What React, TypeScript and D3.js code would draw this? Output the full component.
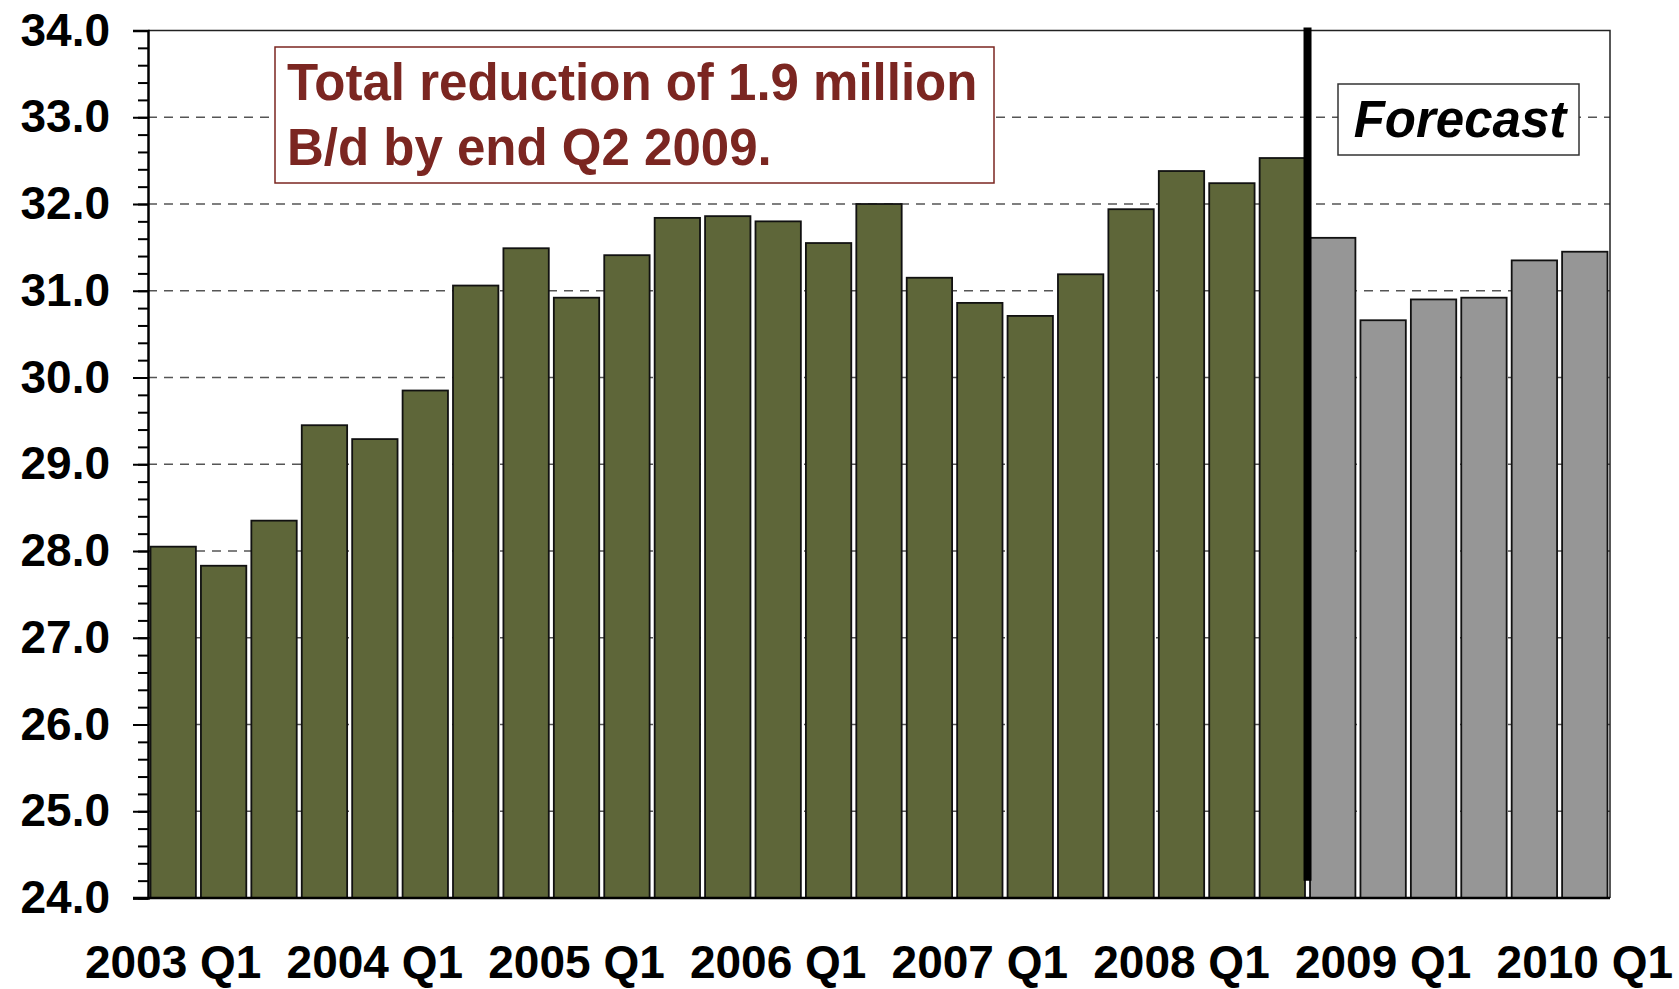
// @ts-nocheck
import React, { useEffect, useRef } from 'react'
import * as d3 from 'd3'

// quarters 2003 Q1 .. 2010 Q1
const quarters = [
    '2003 Q1', '2003 Q2', '2003 Q3', '2003 Q4',
    '2004 Q1', '2004 Q2', '2004 Q3', '2004 Q4',
    '2005 Q1', '2005 Q2', '2005 Q3', '2005 Q4',
    '2006 Q1', '2006 Q2', '2006 Q3', '2006 Q4',
    '2007 Q1', '2007 Q2', '2007 Q3', '2007 Q4',
    '2008 Q1', '2008 Q2', '2008 Q3', '2008 Q4',
    '2009 Q1', '2009 Q2', '2009 Q3', '2009 Q4',
    '2010 Q1'
]

// historical production (million b/d)
const actualValues = [
    28.05, 27.83, 28.35, 29.45, 29.29, 29.85, 31.06, 31.49,
    30.92, 31.41, 31.84, 31.86, 31.80, 31.55, 32.00, 31.15,
    30.86, 30.71, 31.19, 31.94, 32.38, 32.24, 32.53
]

// forecast
const forecastValues = [31.61, 30.66, 30.90, 30.92, 31.35, 31.45]

const tickLabels = ['2003 Q1', '2004 Q1', '2005 Q1', '2006 Q1', '2007 Q1', '2008 Q1', '2009 Q1', '2010 Q1']

const annotationLines = ['Total reduction of 1.9 million', 'B/d by end Q2 2009.']
const forecastLabel = 'Forecast'

const FONT = '"Liberation Sans", Arial, Helvetica, sans-serif'

const App = () => {
    const ref = useRef(null)

    useEffect(() => {
        const width = 1679,
            height = 989
        const margin = { left: 148, right: 69, top: 30.5, bottom: 91 }
        const svg = d3.select(ref.current)
        svg.selectAll('*').remove()

        const x = d3.scaleBand(quarters, [margin.left, width - margin.right]).paddingInner(0.1).paddingOuter(0.05)
        const y = d3.scaleLinear([24, 34], [height - margin.bottom, margin.top])

        const data = [
            ...actualValues.map((v, i) => ({ q: quarters[i], v, forecast: false })),
            ...forecastValues.map((v, i) => ({ q: quarters[actualValues.length + i], v, forecast: true }))
        ]

        // dashed gridlines
        svg.append('g')
            .selectAll('line')
            .data(d3.range(25, 34))
            .join('line')
            .attr('x1', margin.left)
            .attr('x2', width - margin.right)
            .attr('y1', d => y(d))
            .attr('y2', d => y(d))
            .attr('stroke', '#555')
            .attr('stroke-width', 1.4)
            .attr('stroke-dasharray', '9,7')

        // plot frame (top + right)
        svg.append('path')
            .attr('d', `M${margin.left},${y(34)}H${width - margin.right}V${y(24)}`)
            .attr('fill', 'none')
            .attr('stroke', '#222')
            .attr('stroke-width', 1.5)

        // bars
        svg.append('g')
            .selectAll('rect')
            .data(data)
            .join('rect')
            .attr('x', d => x(d.q))
            .attr('width', x.bandwidth())
            .attr('y', d => y(d.v))
            .attr('height', d => y(24) - y(d.v))
            .attr('fill', d => d.forecast ? '#969696' : '#5e6639')
            .attr('stroke', '#111')
            .attr('stroke-width', 1.8)

        // divider between history and forecast
        const splitX = (x(quarters[actualValues.length - 1]) + x.bandwidth() + x(quarters[actualValues.length])) / 2
        svg.append('line')
            .attr('x1', splitX)
            .attr('x2', splitX)
            .attr('y1', y(34) - 3)
            .attr('y2', y(24.2))
            .attr('stroke', '#000')
            .attr('stroke-width', 8)

        // y axis - minor ticks
        svg.append('g')
            .attr('transform', `translate(${margin.left}, 0)`)
            .call(d3.axisLeft(y).tickValues(d3.range(24, 34.01, 0.2)).tickSize(10).tickFormat(''))
            .call(g => g.select('.domain').remove())
            .call(g => g.selectAll('.tick line').attr('stroke', '#000').attr('stroke-width', 2))

        // y axis - major ticks
        svg.append('g')
            .attr('transform', `translate(${margin.left}, 0)`)
            .call(d3.axisLeft(y).tickValues(d3.range(24, 35)).tickSize(15).tickPadding(23).tickFormat(d3.format('.1f')))
            .call(g => g.select('.domain').attr('stroke', '#000').attr('stroke-width', 2.5))
            .call(g => g.selectAll('.tick line').attr('stroke', '#000').attr('stroke-width', 2))
            .call(g => g.selectAll('.tick text')
                .attr('font-family', FONT)
                .attr('font-weight', 'bold')
                .attr('font-size', 46)
                .attr('fill', '#000'))

        // x baseline
        svg.append('line')
            .attr('x1', margin.left - 15)
            .attr('x2', width - margin.right)
            .attr('y1', y(24))
            .attr('y2', y(24))
            .attr('stroke', '#000')
            .attr('stroke-width', 2.5)

        // x labels
        svg.append('g')
            .selectAll('text')
            .data(tickLabels)
            .join('text')
            .attr('x', d => x(d) + x.bandwidth() / 2)
            .attr('y', 978)
            .attr('text-anchor', 'middle')
            .attr('font-family', FONT)
            .attr('font-weight', 'bold')
            .attr('font-size', 46)
            .text(d => d)

        // annotation box
        svg.append('rect')
            .attr('x', 275).attr('y', 47)
            .attr('width', 719).attr('height', 136)
            .attr('fill', '#fff')
            .attr('stroke', '#7b2621')
            .attr('stroke-width', 1.5)
        svg.append('g')
            .selectAll('text')
            .data(annotationLines)
            .join('text')
            .attr('x', 287)
            .attr('y', (d, i) => 100 + i * 65)
            .attr('font-family', FONT)
            .attr('font-weight', 'bold')
            .attr('font-size', 51)
            .attr('fill', '#7b2621')
            .text(d => d)

        // forecast box
        svg.append('rect')
            .attr('x', 1338).attr('y', 84)
            .attr('width', 241).attr('height', 71)
            .attr('fill', '#fff')
            .attr('stroke', '#333')
            .attr('stroke-width', 1.5)
        svg.append('text')
            .attr('x', 1460)
            .attr('y', 137)
            .attr('text-anchor', 'middle')
            .attr('font-family', FONT)
            .attr('font-weight', 'bold')
            .attr('font-style', 'italic')
            .attr('font-size', 51)
            .text(forecastLabel)
    }, [])

    return <svg ref={ref} width={1679} height={989}
        style={{ position: 'absolute', left: 0, top: 0, background: '#fff' }} />
}

export default App
